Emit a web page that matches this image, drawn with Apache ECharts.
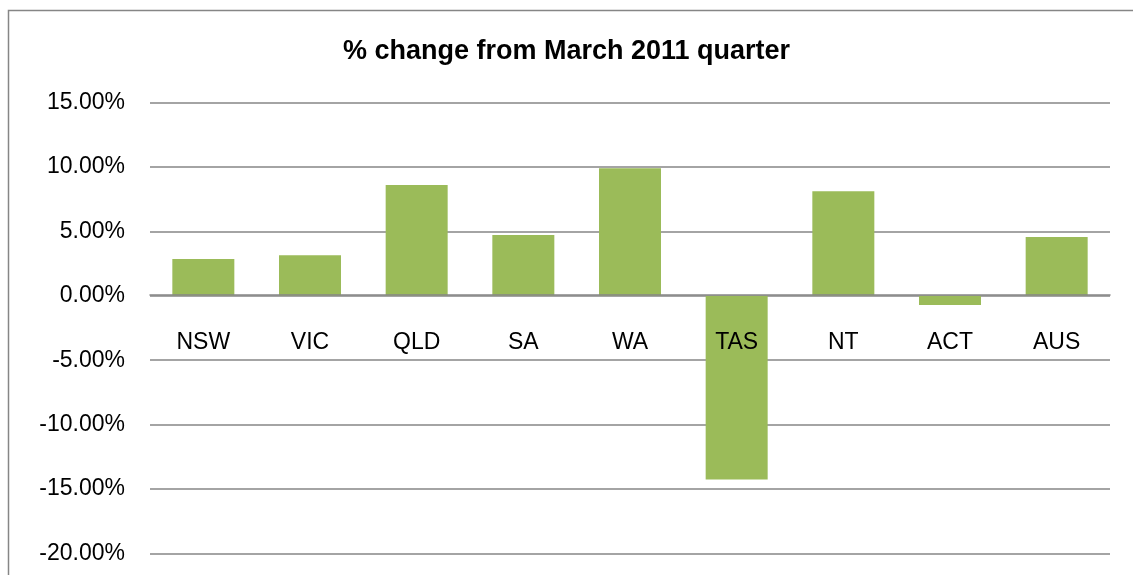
<!DOCTYPE html>
<html>
<head>
<meta charset="utf-8">
<script src="https://cdn.jsdelivr.net/npm/echarts@6/dist/echarts.min.js"></script>
<style>
  html, body { margin: 0; padding: 0; background: #fff; }
  #chart { width: 1133px; height: 575px; }
</style>
</head>
<body>
<div id="chart"></div>
<script>
// states / territories and % change from March 2011 quarter
const categories = ["NSW", "VIC", "QLD", "SA", "WA", "TAS", "NT", "ACT", "AUS"];
const changeValues = [2.85, 3.16, 8.6, 4.72, 9.9, -14.27, 8.13, -0.72, 4.56];

const chart = echarts.init(document.getElementById("chart"));

const option = {
  animation: false,
  title: {
    text: "% change from March 2011 quarter",
    left: "center",
    top: 33,
    textStyle: {
      fontFamily: "Liberation Sans",
      fontSize: 27,
      fontWeight: "bold",
      color: "#000"
    }
  },
  graphic: [
    {
      // outer chart border, runs off the right edge
      type: "rect",
      shape: { x: 8.5, y: 10.5, width: 1140, height: 600 },
      style: { fill: "none", stroke: "#868686", lineWidth: 1.5 },
      silent: true
    }
  ],
  grid: {
    left: 150,
    right: 23,
    top: 102.7,
    bottom: 21.7,
    containLabel: false,
    outerBoundsMode: "none"
  },
  xAxis: {
    type: "category",
    data: categories,
    position: "bottom",
    // category labels sit just under the 0% line, like the source chart
    offset: -258.6,
    z: 5,
    axisLine: {
      onZero: false,
      lineStyle: { color: "#868686", width: 1.5 }
    },
    axisTick: { show: false },
    axisLabel: {
      margin: 36,
      color: "#000",
      fontFamily: "Liberation Sans",
      fontSize: 23
    }
  },
  yAxis: {
    type: "value",
    min: -20,
    max: 15,
    interval: 5,
    axisLine: { show: false },
    axisTick: { show: false },
    axisLabel: {
      margin: 25,
      color: "#000",
      fontFamily: "Liberation Sans",
      fontSize: 23,
      formatter: v => v.toFixed(2) + "%"
    },
    splitLine: { lineStyle: { color: "#868686", width: 1.5 } }
  },
  series: [
    {
      type: "bar",
      data: changeValues,
      barWidth: 62,
      itemStyle: { color: "#9BBB59" }
    }
  ]
};

chart.setOption(option);
</script>
</body>
</html>
